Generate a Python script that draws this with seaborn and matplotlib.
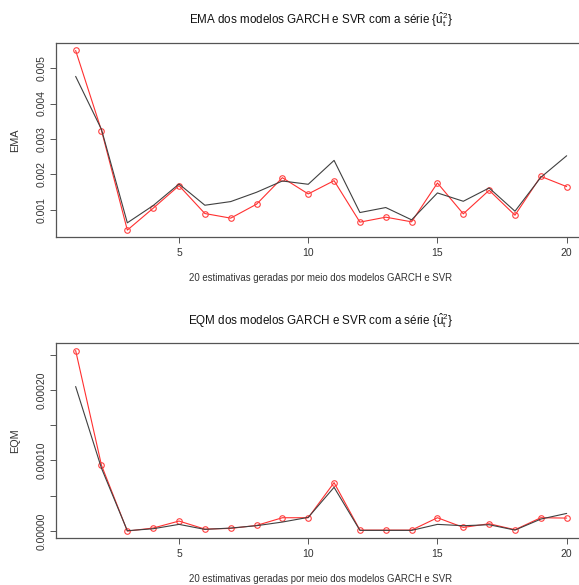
import numpy as np
import pandas as pd
import matplotlib
matplotlib.use("Agg")
import matplotlib.pyplot as plt
import seaborn as sns

# ---- data ----
x = list(range(1, 21))
ema_garch = [0.004766, 0.00327, 0.000635, 0.001122, 0.00173, 0.001131, 0.001234, 0.001497,
             0.001815, 0.001722, 0.002396, 0.000925, 0.001066, 0.000719, 0.001478, 0.001243,
             0.001618, 0.000962, 0.001918, 0.002527]
ema_svr = [0.005497, 0.003239, 0.000429, 0.001047, 0.001684, 0.000897, 0.000767, 0.00116,
           0.001908, 0.00145, 0.001824, 0.000654, 0.000794, 0.000663, 0.001759, 0.000888,
           0.001553, 0.00085, 0.001946, 0.001656]
eqm_garch = [0.0002047, 0.000089, 0.0000005, 0.0000033, 0.0000095, 0.0000024, 0.0000043, 0.0000076,
             0.0000128, 0.0000194, 0.000062, 0.000001, 0.000001, 0.000001, 0.0000095, 0.0000076,
             0.000009, 0.0000014, 0.000017, 0.000025]
eqm_svr = [0.0002557, 0.0000932, 0.0, 0.0000043, 0.0000142, 0.0000028, 0.0000038, 0.000008,
           0.0000189, 0.0000189, 0.0000686, 0.0000014, 0.0000014, 0.0000014, 0.0000189, 0.0000052,
           0.0000104, 0.0000019, 0.0000189, 0.0000184]

ema_ticks = [0.001, 0.002, 0.003, 0.004, 0.005]
ema_ticklabels = ["0.001", "0.002", "0.003", "0.004", "0.005"]
eqm_ticks = [0.0, 0.00005, 0.0001, 0.00015, 0.0002, 0.00025]
eqm_ticklabels = ["0.00000", "", "0.00010", "", "0.00020", ""]
x_ticks = [5, 10, 15, 20]

titles = ["EMA dos modelos GARCH e SVR com a série $\\{\\hat{\\mathrm{u}}_{\\mathrm{t}}^{2}\\}$",
          "EQM dos modelos GARCH e SVR com a série $\\{\\hat{\\mathrm{u}}_{\\mathrm{t}}^{2}\\}$"]
ylabels = ["EMA", "EQM"]
xlabel = "20 estimativas geradas por meio dos modelos GARCH e SVR"

sns.set_style("white")
plt.rcParams['font.family'] = ['Liberation Sans', 'DejaVu Sans']
plt.rcParams['mathtext.fontset'] = 'custom'
plt.rcParams['mathtext.rm'] = 'Liberation Sans'
plt.rcParams['mathtext.it'] = 'Liberation Sans:italic'

W, H = 579, 585
fig = plt.figure(figsize=(W / 100, H / 100), dpi=100)
fig.patch.set_facecolor("white")

def px_axes(left, top, right, bottom):
    return fig.add_axes([left / W, 1 - bottom / H, (right - left) / W, (bottom - top) / H])

panels = [
    (ema_garch, ema_svr, ema_ticks, ema_ticklabels, 43.3, 237.3),
    (eqm_garch, eqm_svr, eqm_ticks, eqm_ticklabels, 343.3, 538.3),
]
title_y = [20, 321]
xlabel_y = [278, 579]
cx = 321

txt = "#333333"
for i, (g, s, yt, ytl, top, bot) in enumerate(panels):
    ax = px_axes(56, top, 586.3, bot)
    df = pd.DataFrame({"x": x, "garch": g, "svr": s})
    sns.lineplot(data=df, x="x", y="svr", ax=ax, color="#ff3030", lw=0.8,
                 marker="o", markersize=4, markerfacecolor="none",
                 markeredgecolor="#ff4040", markeredgewidth=0.8)
    sns.lineplot(data=df, x="x", y="garch", ax=ax, color="#404040", lw=0.8)
    ax.set_xlim(0.24, 20.76)
    lo, hi = min(min(g), min(s)), max(max(g), max(s))
    ext = 0.04 * (hi - lo)
    ax.set_ylim(lo - ext, hi + ext)
    ax.set_xticks(x_ticks)
    ax.set_xticklabels([str(t) for t in x_ticks], fontsize=7.5, color=txt)
    ax.set_yticks(yt)
    ax.set_yticklabels(ytl, fontsize=7.5, color=txt, rotation=90, va="center")
    ax.tick_params(axis="both", direction="out", length=4, width=0.7, color="#555555",
                   pad=3, bottom=True, left=True, top=False, right=False)
    ax.tick_params(axis="x", pad=4)
    for side in ["left", "bottom", "top", "right"]:
        ax.spines[side].set_color("#555555")
        ax.spines[side].set_linewidth(0.9)
    ax.set_xlabel("")
    ax.set_ylabel("")
    fig.text(cx / W, 1 - title_y[i] / H, titles[i], ha="center", va="center",
             fontsize=8.4, color="#111111")
    fig.text(cx / W, 1 - xlabel_y[i] / H, xlabel, ha="center", va="center",
             fontsize=6.9, color=txt)
    fig.text(15 / W, 1 - ((top + bot) / 2) / H, ylabels[i], ha="center", va="center",
             rotation=90, fontsize=7.8, color=txt)

fig.savefig("out.png", dpi=100, facecolor="white")
